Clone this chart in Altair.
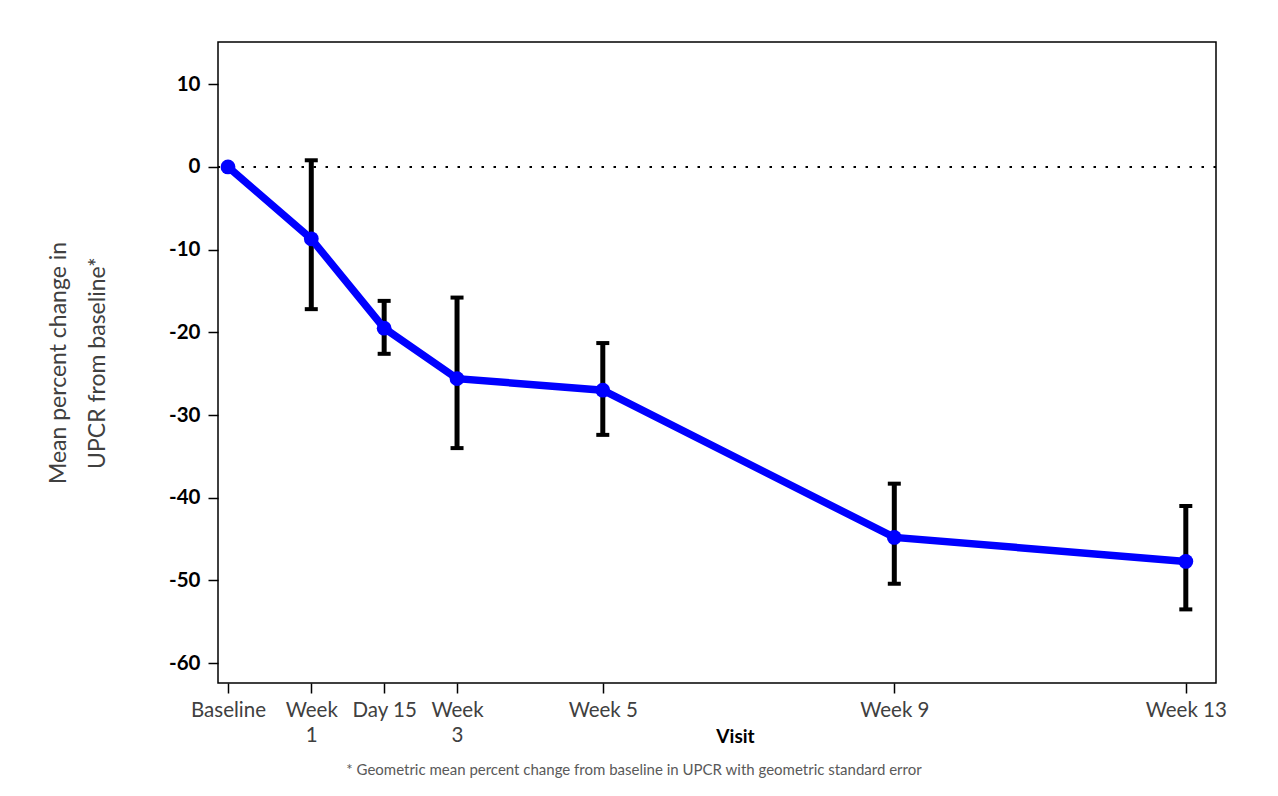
import altair as alt
import pandas as pd

# ---- data ----
visit_day = [0, 8, 15, 22, 36, 64, 92]
visit_label_lines = [["Baseline"], ["Week", "1"], ["Day 15"], ["Week", "3"],
                     ["Week 5"], ["Week 9"], ["Week 13"]]
mean_change = [0.0, -8.7, -19.5, -25.6, -27.0, -44.8, -47.7]
err_upper = [None, 0.8, -16.2, -15.8, -21.3, -38.3, -41.0]
err_lower = [None, -17.2, -22.6, -34.0, -32.4, -50.4, -53.5]
y_ticks = [10, 0, -10, -20, -30, -40, -50, -60]
reference_line = [0]

footnote = "* Geometric mean percent change from baseline in UPCR with geometric standard error"

df = pd.DataFrame({"day": visit_day, "mean": mean_change,
                   "hi": err_upper, "lo": err_lower})
df_err = df.dropna()
df_ref = pd.DataFrame({"ref": reference_line})

# label expression built from the label lists
expr = "''"
for d, lines in reversed(list(zip(visit_day, visit_label_lines))):
    arr = "[" + ",".join("'" + s + "'" for s in lines) + "]"
    expr = f"datum.value == {d} ? {arr} : ({expr})"

FONT = "Lato"

x_scale = alt.Scale(domain=[-0.96, 94.9], nice=False, zero=False)
y_scale = alt.Scale(domain=[-62.4, 15.1], nice=False, zero=False)

x_axis = alt.Axis(values=visit_day, labelExpr=expr, title="Visit",
                  labelFont=FONT, labelFontSize=20.5, labelColor="#404040",
                  labelLineHeight=25, labelOverlap=False, labelFlush=False,
                  labelPadding=7, tickSize=10, tickColor="black", tickWidth=1.5,
                  titleFont=FONT, titleFontSize=19, titleFontWeight="bold",
                  titleColor="black", titleX=517, titleY=53,
                  titleBaseline="middle", grid=False, domain=False)
y_axis = alt.Axis(values=y_ticks, labelExpr="'' + datum.value",
                  labelFont=FONT, labelFontSize=20.5, labelFontWeight="bold",
                  labelColor="black", labelPadding=8,
                  tickSize=10, tickColor="black", tickWidth=1.5,
                  title=["Mean percent change in", "UPCR from baseline*"],
                  titleFont=FONT, titleFontSize=23, titleFontWeight="normal",
                  titleColor="#404040", titleLineHeight=39, titlePadding=59,
                  grid=False, domain=False)

base = alt.Chart(df)

ref = alt.Chart(df_ref).mark_rule(color="black", strokeWidth=2,
                                  strokeDash=[2.5, 9.5]).encode(
    y=alt.Y("ref:Q", scale=y_scale, axis=y_axis))

bars = alt.Chart(df_err).mark_rule(color="black", strokeWidth=5).encode(
    x=alt.X("day:Q", scale=x_scale, axis=x_axis),
    y=alt.Y("lo:Q", scale=y_scale),
    y2="hi:Q")
cap_hi = alt.Chart(df_err).mark_tick(color="black", size=13, thickness=4,
                                     opacity=1, orient="horizontal").encode(
    x=alt.X("day:Q", scale=x_scale), y=alt.Y("hi:Q", scale=y_scale))
cap_lo = alt.Chart(df_err).mark_tick(color="black", size=13, thickness=4,
                                     opacity=1, orient="horizontal").encode(
    x=alt.X("day:Q", scale=x_scale), y=alt.Y("lo:Q", scale=y_scale))

line = base.mark_line(color="#0000FF", strokeWidth=7.5).encode(
    x=alt.X("day:Q", scale=x_scale), y=alt.Y("mean:Q", scale=y_scale))
pts = base.mark_point(color="#0000FF", filled=True, opacity=1, size=220).encode(
    x=alt.X("day:Q", scale=x_scale), y=alt.Y("mean:Q", scale=y_scale))

chart = alt.layer(ref, bars, cap_hi, cap_lo, line, pts).properties(
    width=998, height=641,
    autosize=alt.AutoSizeParams(type="none"),
    padding={"left": 210, "top": 34, "right": 54, "bottom": 105},
    title=alt.TitleParams(text=footnote, orient="bottom", anchor="middle",
                          dx=-83, offset=17, font=FONT, fontSize=15,
                          fontWeight="normal", color="#595959"),
).configure(background="white").configure_view(stroke="black", strokeWidth=1.5)

chart.save("out.html", embed_options={"renderer": "svg", "actions": False})
